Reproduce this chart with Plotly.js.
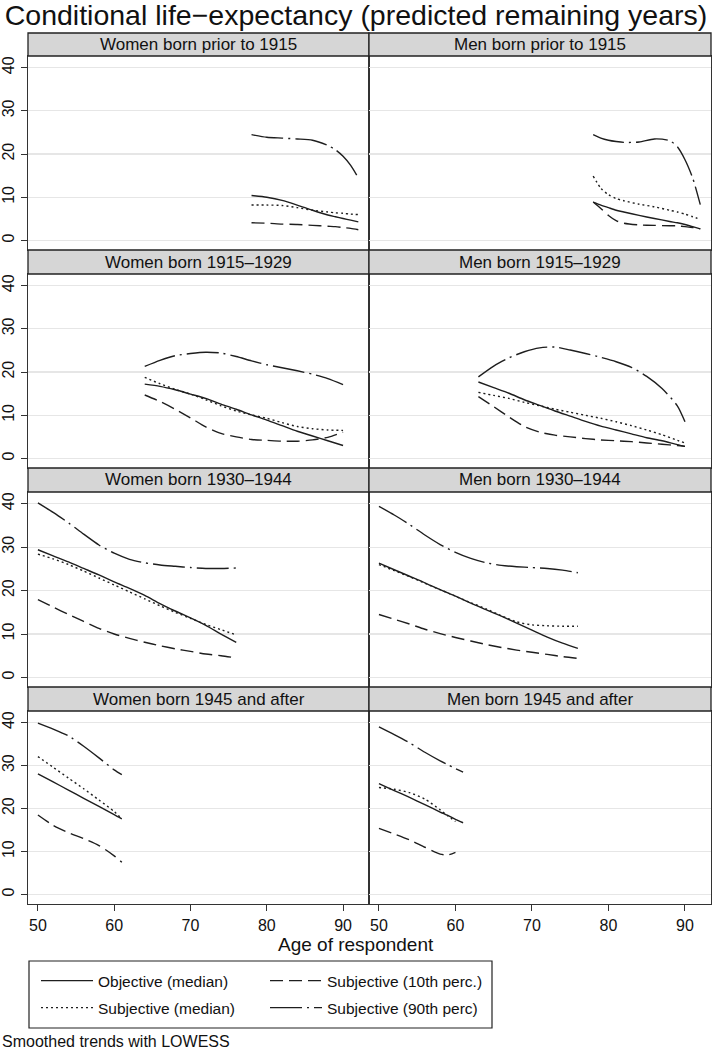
<!DOCTYPE html>
<html><head><meta charset="utf-8">
<script src="https://cdn.plot.ly/plotly-3.0.1.min.js"></script>
<style>html,body{margin:0;padding:0;background:#fff}</style>
</head><body><div id="chart" style="width:712px;height:1050px"></div>
<script>
// ---------- DATA ----------
const panelTitles = [
  "Women born prior to 1915", "Men born prior to 1915",
  "Women born 1915\u20131929", "Men born 1915\u20131929",
  "Women born 1930\u20131944", "Men born 1930\u20131944",
  "Women born 1945 and after", "Men born 1945 and after"
];
const seriesNames = ["Objective (median)", "Subjective (10th perc.)", "Subjective (median)", "Subjective (90th perc)"];
const xTicks = [50, 60, 70, 80, 90];
const yTicks = [0, 10, 20, 30, 40];

// Women born prior to 1915
const ageW1 = [78, 80, 82, 84, 86, 88, 89, 90, 91, 92];
const objW1 = [10.4, 10.0, 9.3, 8.2, 7.0, 5.9, 5.5, 5.1, 4.7, 4.3];
const p10W1 = [4.1, 4.0, 3.8, 3.7, 3.5, 3.3, 3.2, 3.0, 2.8, 2.5];
const medW1 = [8.2, 8.2, 8.1, 7.6, 7.0, 6.6, 6.4, 6.3, 6.1, 6.0];
const p90W1 = [24.5, 23.9, 23.7, 23.5, 23.2, 22.0, 21.0, 19.5, 17.4, 14.5];

// Men born prior to 1915
const ageM1 = [78, 79, 80, 81, 82, 84, 86, 88, 89, 90, 91, 92];
const objM1 = [8.9, 8.2, 7.6, 7.0, 6.6, 5.8, 5.1, 4.4, 4.1, 3.7, 3.2, 2.7];
const p10M1 = [8.9, 7.4, 5.8, 4.6, 4.0, 3.6, 3.5, 3.4, 3.4, 3.2, 3.0, 2.7];
const medM1 = [14.9, 12.1, 10.6, 9.7, 9.2, 8.4, 7.8, 7.0, 6.6, 6.1, 5.5, 4.9];
const p90M1 = [24.5, 23.7, 23.2, 22.9, 22.7, 22.8, 23.5, 23.1, 21.7, 18.7, 14.5, 8.3];

// Women born 1915-1929
const ageW2 = [64, 66, 68, 70, 72, 74, 76, 78, 80, 82, 84, 86, 88, 90];
const objW2 = [17.2, 16.7, 15.9, 14.9, 13.9, 12.6, 11.4, 10.1, 8.9, 7.6, 6.3, 5.2, 4.1, 3.0];
const p10W2 = [14.7, 13.2, 11.4, 9.4, 7.3, 5.8, 5.0, 4.4, 4.2, 4.0, 4.0, 4.3, 4.9, 6.1];
const medW2 = [18.8, 17.3, 16.0, 14.9, 13.6, 12.2, 11.0, 10.1, 9.3, 8.3, 7.4, 6.9, 6.6, 6.5];
const p90W2 = [21.3, 22.7, 23.8, 24.3, 24.6, 24.4, 23.6, 22.6, 21.7, 21.0, 20.3, 19.5, 18.5, 17.1];

// Men born 1915-1929
const ageM2 = [63, 65, 67, 69, 71, 73, 75, 77, 79, 81, 83, 85, 87, 89, 90];
const objM2 = [17.7, 16.4, 15.1, 13.6, 12.3, 11.0, 9.8, 8.6, 7.5, 6.6, 5.7, 4.8, 4.1, 3.2, 2.8];
const p10M2 = [14.3, 12.0, 9.6, 7.4, 6.1, 5.4, 5.0, 4.6, 4.3, 4.1, 3.9, 3.6, 3.3, 3.0, 2.8];
const medM2 = [15.3, 14.6, 13.9, 13.0, 12.2, 11.4, 10.7, 10.0, 9.3, 8.5, 7.6, 6.6, 5.5, 4.2, 3.6];
const p90M2 = [18.9, 21.4, 23.3, 24.7, 25.6, 25.8, 25.1, 24.3, 23.4, 22.4, 21.1, 19.0, 16.2, 12.2, 8.5];

// Women born 1930-1944
const ageW3 = [50, 52, 54, 56, 58, 60, 62, 64, 66, 68, 70, 72, 74, 76];
const objW3 = [29.4, 28.0, 26.6, 25.1, 23.6, 22.0, 20.5, 18.9, 17.0, 15.3, 13.7, 12.0, 10.0, 8.1];
const p10W3 = [17.9, 16.2, 14.5, 12.9, 11.3, 10.0, 9.0, 8.1, 7.3, 6.6, 6.0, 5.4, 5.0, 4.5];
const medW3 = [28.4, 27.3, 26.0, 24.5, 22.9, 21.3, 19.7, 18.1, 16.5, 15.0, 13.6, 12.2, 11.0, 9.8];
const p90W3 = [40.2, 38.0, 35.6, 33.0, 30.5, 28.6, 27.2, 26.4, 25.9, 25.6, 25.3, 25.1, 25.1, 25.2];

// Men born 1930-1944
const ageM3 = [50, 52, 54, 56, 58, 60, 62, 64, 66, 68, 70, 72, 74, 76];
const objM3 = [26.3, 24.8, 23.3, 21.8, 20.2, 18.7, 17.1, 15.6, 14.1, 12.5, 10.9, 9.3, 7.9, 6.7];
const p10M3 = [14.5, 13.4, 12.3, 11.1, 10.1, 9.2, 8.4, 7.6, 6.9, 6.3, 5.8, 5.3, 4.8, 4.4];
const medM3 = [26.0, 24.6, 23.2, 21.7, 20.2, 18.7, 17.2, 15.8, 14.2, 12.8, 12.1, 11.9, 11.8, 11.8];
const p90M3 = [39.4, 37.4, 35.2, 32.8, 30.6, 28.8, 27.4, 26.4, 25.8, 25.5, 25.3, 25.1, 24.7, 24.1];

// Women born 1945 and after
const ageW4 = [50, 52, 54, 56, 58, 60, 61];
const objW4 = [28.1, 26.2, 24.3, 22.4, 20.5, 18.6, 17.6];
const p10W4 = [18.5, 16.1, 14.4, 13.0, 11.4, 9.0, 7.5];
const medW4 = [32.1, 29.6, 27.1, 24.6, 22.0, 19.3, 17.6];
const p90W4 = [39.9, 38.5, 36.9, 34.5, 31.8, 29.0, 27.9];

// Men born 1945 and after
const ageM4 = [50, 52, 54, 56, 58, 59, 60, 61];
const objM4 = [25.8, 24.2, 22.6, 20.9, 19.2, 18.4, 17.5, 16.7];
const p10M4 = [15.4, 14.1, 12.7, 11.0, 9.4, 9.2, 9.8, null];
const medM4 = [24.9, 24.5, 23.7, 22.2, 19.7, 18.3, 17.0, null];
const p90M4 = [39.0, 37.2, 35.3, 33.1, 31.1, 30.2, 29.3, 28.5];

// ---------- BUILD ----------
const panels = [
  [ageW1, objW1, p10W1, medW1, p90W1], [ageM1, objM1, p10M1, medM1, p90M1],
  [ageW2, objW2, p10W2, medW2, p90W2], [ageM2, objM2, p10M2, medM2, p90M2],
  [ageW3, objW3, p10W3, medW3, p90W3], [ageM3, objM3, p10M3, medM3, p90M3],
  [ageW4, objW4, p10W4, medW4, p90W4], [ageM4, objM4, p10M4, medM4, p90M4]
];
const dashes = ["solid", "13px,6px", "2px,3px", "32px,5px,2px,5px"];
const legendRow = ["legend", "legend", "legend2", "legend2"];
const lineColor = "#1e1e1e";

// pixel geometry -> paper fractions
const W = 712, H = 1050, mL = 28, mR = 1, mT = 33, mB = 146;
const pw = W - mL - mR, ph = H - mT - mB;
const fx = px => (px - mL) / pw;
const fy = py => (mT + ph - py) / ph;
const colEdges = [[28, 369], [369, 711]];
const rows = [ // [headerTop, headerBottom(plotTop), plotBottom]
  [33, 56, 250], [250, 274, 468], [468, 492, 687], [687, 711, 904]
];

const font = "Liberation Sans, Arial, Helvetica, sans-serif";
const legendBase = {orientation: "h", xanchor: "left", yanchor: "middle",
  font: {size: 15.5, family: font, color: "#111"},
  borderwidth: 0, bgcolor: "rgba(0,0,0,0)",
  itemwidth: 52, entrywidth: 162, traceorder: "normal"};
const traces = [];
const layout = {
  width: W, height: H,
  margin: {l: mL, r: mR, t: mT, b: mB},
  paper_bgcolor: "#fff", plot_bgcolor: "#fff",
  font: {family: font, color: "#111"},
  showlegend: true,
  title: {text: "Conditional life\u2212expectancy (predicted remaining years)",
          font: {size: 28.5, family: font, color: "#111"},
          x: 0.5, xanchor: "center", xref: "container",
          y: 1 - 15 / H, yanchor: "middle", yref: "container"},
  legend: Object.assign({}, legendBase, {x: fx(36), y: fy(981)}),
  legend2: Object.assign({}, legendBase, {x: fx(36), y: fy(1008)}),
  shapes: [{type: "rect", xref: "paper", yref: "paper",
            x0: fx(29), x1: fx(492), y0: fy(1028), y1: fy(961),
            line: {color: "#222", width: 1.2}, fillcolor: "rgba(0,0,0,0)"}],
  annotations: []
};

panels.forEach((p, i) => {
  const r = Math.floor(i / 2), c = i % 2;
  const n = i + 1;
  const xa = "x" + (n === 1 ? "" : n), ya = "y" + (n === 1 ? "" : n);
  const xKey = "xaxis" + (n === 1 ? "" : n), yKey = "yaxis" + (n === 1 ? "" : n);
  const [hTop, pTop, pBot] = rows[r];
  const [cL, cR] = colEdges[c];
  const bottom = r === 3, left = c === 0;
  layout[xKey] = {
    domain: [fx(cL), fx(cR)], anchor: ya, range: [48.7, 93.4],
    tickvals: xTicks, ticktext: xTicks.map(String),
    showticklabels: bottom, ticks: bottom ? "outside" : "", ticklen: 6, tickcolor: "#333",
    tickfont: {size: 16, family: font, color: "#111"},
    showgrid: false, zeroline: false,
    showline: true, mirror: true, linecolor: "#333", linewidth: 1.3
  };
  layout[yKey] = {
    domain: [fy(pBot), fy(pTop)], anchor: xa, range: [-2.2, 42.7],
    tickvals: yTicks, ticktext: yTicks.map(String),
    showticklabels: left, ticks: left ? "outside" : "", ticklen: 6, tickcolor: "#333",
    tickangle: -90, tickfont: {size: 16, family: font, color: "#111"},
    showgrid: true, gridcolor: "#e6e6e6", gridwidth: 1.2, zeroline: false,
    showline: true, mirror: true, linecolor: "#333", linewidth: 1.3
  };
  // header strip
  layout.shapes.push({type: "rect", xref: "paper", yref: "paper",
    x0: fx(cL), x1: fx(cR), y0: fy(pTop), y1: fy(hTop),
    fillcolor: "#d6d6d6", line: {color: "#222", width: 1.3}, layer: "above"});
  layout.annotations.push({xref: "paper", yref: "paper",
    x: (fx(cL) + fx(cR)) / 2, y: (fy(pTop) + fy(hTop)) / 2,
    xanchor: "center", yanchor: "middle", showarrow: false,
    text: panelTitles[i], font: {size: 17, family: font, color: "#111"}});
  const age = p[0];
  for (let s = 0; s < 4; s++) {
    traces.push({
      type: "scatter", mode: "lines", x: age, y: p[s + 1],
      xaxis: xa, yaxis: ya, name: seriesNames[s],
      showlegend: i === 0, legend: legendRow[s],
      line: {color: lineColor, width: 1.4, dash: dashes[s], shape: "spline", smoothing: 0.7},
      connectgaps: false, hoverinfo: "skip"
    });
  }
});

layout.annotations.push({xref: "paper", yref: "paper", x: fx(356), y: fy(944),
  xanchor: "center", yanchor: "middle", showarrow: false,
  text: "Age of respondent", font: {size: 19, family: font, color: "#111"}});
layout.annotations.push({xref: "paper", yref: "paper", x: fx(0), y: fy(1041),
  xanchor: "left", yanchor: "middle", showarrow: false,
  text: "Smoothed trends with LOWESS", font: {size: 16, family: font, color: "#111"}});

Plotly.newPlot("chart", traces, layout, {staticPlot: true, displayModeBar: false});
</script>
</body></html>
